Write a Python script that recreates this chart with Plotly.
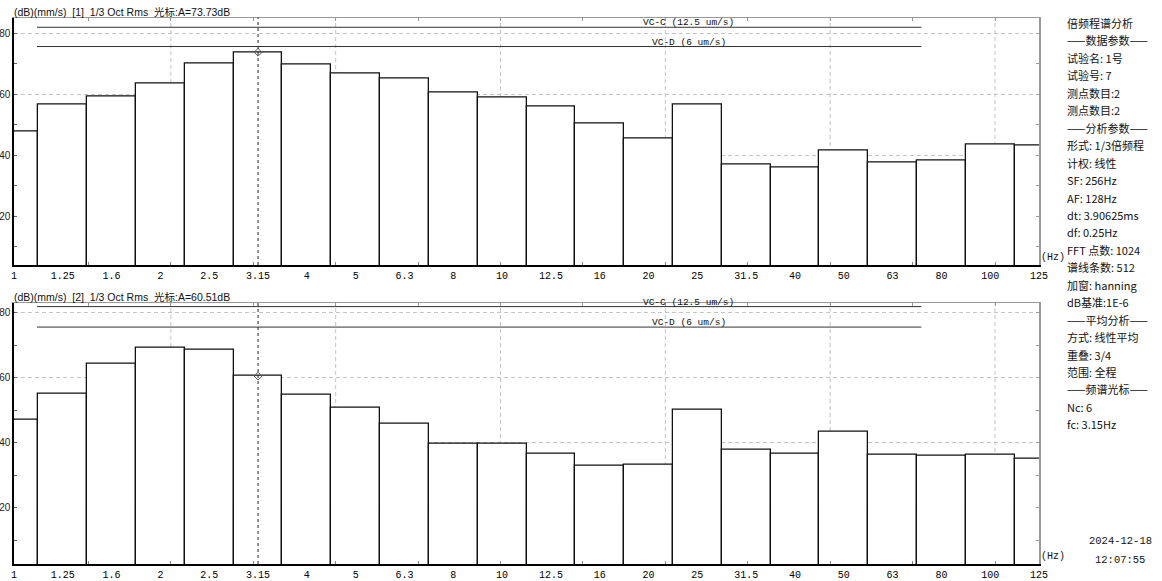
import plotly.graph_objects as go

# ---------------- data ----------------
bands = ["1", "1.25", "1.6", "2", "2.5", "3.15", "4", "5", "6.3", "8", "10",
         "12.5", "16", "20", "25", "31.5", "40", "50", "63", "80", "100", "125"]
top_db = [47.7, 56.6, 59.2, 63.4, 70.2, 73.73, 69.6, 66.8, 65.0, 60.6, 58.8,
          56.0, 50.4, 45.5, 56.7, 36.9, 36.0, 41.5, 37.8, 38.4, 43.7, 43.3]
bot_db = [47.0, 55.2, 64.2, 69.2, 68.6, 60.51, 54.8, 50.7, 45.8, 39.6, 39.6,
          36.5, 32.8, 33.4, 50.1, 37.8, 36.5, 43.3, 36.2, 35.9, 36.2, 35.0]
vc_names = ["VC-C (12.5 um/s)", "VC-D (6 um/s)"]
vc_db = [81.9, 75.6]
cursor_idx = 5
panel_titles = ["(dB)(mm/s)  [1]  1/3 Oct Rms  光标:A={:.2f}dB",
                "(dB)(mm/s)  [2]  1/3 Oct Rms  光标:A={:.2f}dB"]
info_lines = ["倍频程谱分析", "——数据参数——", "试验名: 1号", "试验号: 7",
              "测点数目:2", "测点数目:2", "——分析参数——", "形式: 1/3倍频程",
              "计权: 线性", "SF: 256Hz", "AF: 128Hz", "dt: 3.90625ms",
              "df: 0.25Hz", "FFT 点数: 1024", "谱线条数: 512", "加窗: hanning",
              "dB基准:1E-6", "——平均分析——", "方式: 线性平均", "重叠: 3/4",
              "范围: 全程", "——频谱光标——", "Nc: 6", "fc: 3.15Hz"]
stamp = ["2024-12-18", "12:07:55"]

# ---------------- layout constants ----------------
W, H = 1162, 581
idx = list(range(len(bands)))
XR = [0, len(bands) - 1]
XDOM = [14 / W, 1039 / W]
panels = [
    dict(vals=top_db, yr=[4.1, 85.1], ydom=[1 - 265 / H, 1 - 17.5 / H]),
    dict(vals=bot_db, yr=[2.7, 83.1], ydom=[1 - 564 / H, 1 - 302.7 / H]),
]
VC_X0, VC_X1, VC_LABEL_X = 0.47, 18.59, 13.82
tick0, tstep = 1.525, 1.6885
minor_x = [tick0 + k * tstep for k in range(12)]
grid_x = minor_x[1::2]

MONO = "Liberation Mono, DejaVu Sans Mono, Noto Sans CJK SC, monospace"
SANS = "Liberation Sans, Noto Sans CJK SC, sans-serif"
CJK = "Noto Sans CJK SC, Liberation Sans, sans-serif"

fig = go.Figure()
layout = dict(width=W, height=H, margin=dict(l=0, r=0, t=0, b=0, autoexpand=False),
              paper_bgcolor="white", plot_bgcolor="white", showlegend=False,
              bargap=0)
shapes, annotations = [], []

for p, pan in enumerate(panels):
    xa = "x" if p == 0 else "x2"
    ya = "y" if p == 0 else "y2"
    xo = f"x{p + 3}"
    yo = f"y{p + 3}"
    xkey = "xaxis" if p == 0 else "xaxis2"
    ykey = "yaxis" if p == 0 else "yaxis2"
    vals = pan["vals"]

    fig.add_trace(go.Bar(x=idx, y=vals, width=1, xaxis=xa, yaxis=ya,
                         marker=dict(color="white", line=dict(color="#111", width=1.3)),
                         hoverinfo="skip"))
    for name, v in zip(vc_names, vc_db):
        fig.add_trace(go.Scatter(x=[VC_X0, VC_X1], y=[v, v], mode="lines", xaxis=xa, yaxis=ya,
                                 line=dict(color="#333", width=1), hoverinfo="skip"))
        annotations.append(dict(x=VC_LABEL_X, y=v, xref=xa, yref=ya, text=name, showarrow=False,
                                xanchor="center", yanchor="bottom", yshift=-3,
                                font=dict(family=MONO, size=9.5, color="#111")))
    fig.add_trace(go.Scatter(x=[cursor_idx], y=[vals[cursor_idx]], mode="markers", xaxis=xa, yaxis=ya,
                             marker=dict(symbol="diamond-open", size=6, color="#555",
                                         line=dict(width=1, color="#555")),
                             hoverinfo="skip"))
    fig.add_trace(go.Scatter(x=[XR[0]], y=[pan["yr"][0]], mode="markers", xaxis=xo, yaxis=yo,
                             marker=dict(opacity=0), hoverinfo="skip"))

    layout[xkey] = dict(domain=XDOM, range=XR, anchor=ya, tickmode="array", tickvals=idx,
                        ticktext=bands, ticks="", showgrid=False, zeroline=False,
                        automargin=False,
                        showline=True, linecolor="black", linewidth=1.5,
                        tickfont=dict(family=MONO, size=10, color="black"),
                        minor=dict(tickmode="array", tickvals=minor_x, ticks="inside",
                                   ticklen=3, tickcolor="#888", showgrid=False))
    layout[ykey] = dict(domain=pan["ydom"], range=pan["yr"], anchor=xa, tickmode="array",
                        tickvals=[20, 40, 60, 80], ticks="inside", ticklen=3, tickcolor="#666",
                        showgrid=True, gridcolor="#c4c4c4", griddash="4px,3px", gridwidth=1,
                        zeroline=False, showline=True, linecolor="black", linewidth=1.5,
                        automargin=False,
                        tickfont=dict(family=SANS, size=10, color="#222"),
                        minor=dict(tickmode="array", tickvals=[10, 30, 50, 70], ticks="inside",
                                   ticklen=3, tickcolor="#666", showgrid=False))
    layout[f"xaxis{p + 3}"] = dict(overlaying=xa, side="top", range=XR, anchor=yo,
                                   showline=True, linecolor="#999", linewidth=1,
                                   tickmode="array", tickvals=minor_x, ticks="inside",
                                   ticklen=3, tickcolor="#999", showticklabels=False,
                                   showgrid=False, zeroline=False, automargin=False)
    layout[f"yaxis{p + 3}"] = dict(overlaying=ya, side="right", range=pan["yr"], anchor=xo,
                                   showline=True, linecolor="#999", linewidth=1.5,
                                   tickmode="array", tickvals=[10, 20, 30, 40, 50, 60, 70, 80],
                                   ticks="inside", ticklen=3, tickcolor="#999",
                                   showticklabels=False, showgrid=False, zeroline=False,
                                   automargin=False)

    for gx in grid_x:
        shapes.append(dict(type="line", xref=xa, yref=f"{ya} domain", x0=gx, x1=gx, y0=0, y1=1,
                           line=dict(color="#c4c4c4", width=1, dash="4px,3px"), layer="below"))
    shapes.append(dict(type="line", xref=xa, yref=f"{ya} domain", x0=cursor_idx, x1=cursor_idx,
                       y0=0, y1=1, line=dict(color="#222", width=1, dash="3px,3px")))

    annotations.append(dict(xref=f"{xa} domain", yref=f"{ya} domain", x=0, y=1,
                            text=panel_titles[p].format(vals[cursor_idx]), showarrow=False,
                            xanchor="left", yanchor="bottom", yshift=-2, xshift=-2,
                            font=dict(family=SANS, size=10.5, color="#111")))
    annotations.append(dict(xref=f"{xa} domain", yref=f"{ya} domain", x=1, y=0, text="(Hz)",
                            showarrow=False, xanchor="left", yanchor="bottom", xshift=0, yshift=0,
                            font=dict(family=MONO, size=10, color="#111")))

for i, line in enumerate(info_lines):
    annotations.append(dict(xref="paper", yref="paper", x=1065 / W, y=1 - (23 + 17.45 * i) / H,
                            text=line, showarrow=False, xanchor="left", yanchor="middle",
                            font=dict(family=CJK, size=11, color="#111")))
for i, s in enumerate(stamp):
    annotations.append(dict(xref="paper", yref="paper", x=1120 / W, y=1 - (541 + 19 * i) / H,
                            text=s, showarrow=False, xanchor="center", yanchor="middle",
                            font=dict(family=MONO, size=10.5, color="#111")))

layout["shapes"] = shapes
layout["annotations"] = annotations
fig.update_layout(**layout)
fig.write_html("out.html", config={"displayModeBar": False},
               post_script="document.body.style.margin='0';document.body.style.overflow='hidden';")
